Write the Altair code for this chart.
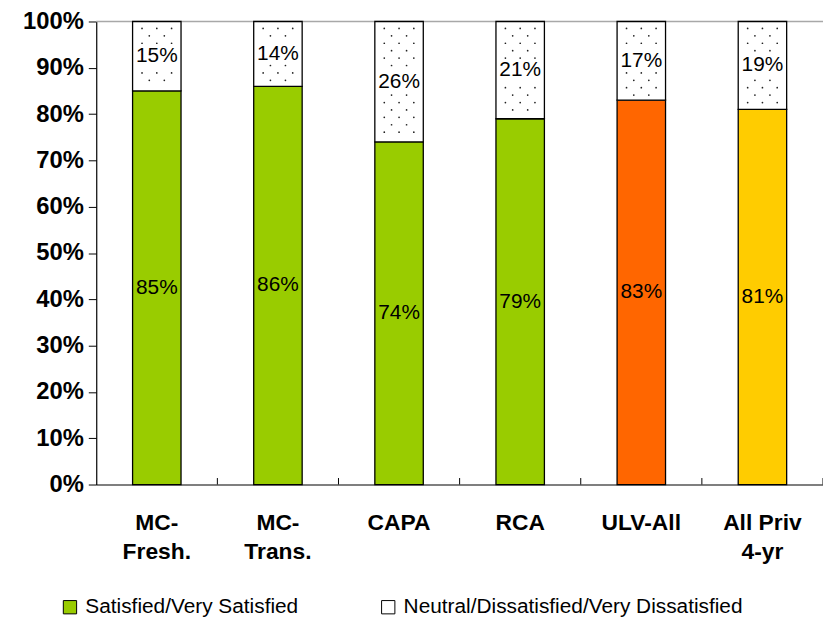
import altair as alt
import pandas as pd

# ---- data ----
categories = ["MC-\nFresh.", "MC-\nTrans.", "CAPA", "RCA", "ULV-All", "All Priv\n4-yr"]
satisfied = [85, 86, 74, 79, 83, 81]
neutral = [15, 14, 26, 21, 17, 19]
series_names = ["Satisfied/Very Satisfied", "Neutral/Dissatisfied/Very Dissatisfied"]
bar_keys = ["Satisfied/Very Satisfied"] * 4 + ["ULV-All", "All Priv 4-yr"]
y_ticks = [0, 10, 20, 30, 40, 50, 60, 70, 80, 90, 100]

color_domain = series_names + ["ULV-All", "All Priv 4-yr"]
color_range = ["#99CC00", "#FFFFFF", "#FF6600", "#FFCC00"]

FONT = "Liberation Sans"

# ---- tables built from the arrays ----
rows = []
for c, s, n, k in zip(categories, satisfied, neutral, bar_keys):
    rows.append({"cat": c, "key": k, "y0": 0, "y1": s, "mid": s / 2, "label": f"{s}%"})
    rows.append({"cat": c, "key": series_names[1], "y0": s, "y1": s + n,
                 "mid": s + n / 2, "label": f"{n}%"})
bars = pd.DataFrame(rows)

# dotted texture for the neutral segments (position in category units)
dots = []
for i, (c, s, n) in enumerate(zip(categories, satisfied, neutral)):
    mid = s + n / 2
    k = 0
    yy = 98.5
    while yy > s + 0.8:
        if abs(yy - mid) > 2.3:
            offs = [-0.61, 0.0, 0.61] if k % 2 == 0 else [-0.31, 0.31]
            for o in offs:
                dots.append({"px": i + 0.5 + o * 0.2, "yy": yy})
        k += 1
        yy = 98.5 - 1.6 * k
dots = pd.DataFrame(dots)

# inward category-boundary ticks of the x axis
bounds = pd.DataFrame({"px": list(range(1, len(categories) + 1)), "t0": 0, "t1": 1.4})

x_enc = alt.X(
    "cat:N", sort=categories,
    scale=alt.Scale(paddingInner=0.6, paddingOuter=0.3),
    axis=alt.Axis(
        title=None, labelAngle=0, labelFont=FONT, labelFontSize=23,
        labelFontWeight="bold", labelColor="black", labelPadding=27,
        labelLineHeight=30, labelExpr="split(datum.label, '\\n')",
        ticks=False, domainColor="black", domainWidth=1.2,
    ),
)
y_scale = alt.Scale(domain=[0, 100], nice=False)
q_scale = alt.Scale(domain=[0, len(categories)], nice=False)

top_rule = alt.Chart(pd.DataFrame({"v": [100]})).mark_rule(
    color="#a8a8a8", strokeWidth=1.5
).encode(y=alt.Y("v:Q", scale=y_scale))

bar_layer = alt.Chart(bars).mark_bar(stroke="black", strokeWidth=1.3).encode(
    x=x_enc,
    y=alt.Y(
        "y0:Q", scale=y_scale,
        axis=alt.Axis(
            title=None, values=y_ticks, labelExpr="datum.value + '%'",
            labelFont=FONT, labelFontSize=24, labelFontWeight="bold",
            labelColor="black", labelPadding=5, tickSize=8, tickColor="black",
            domainColor="black", domainWidth=1.2, grid=False,
        ),
    ),
    y2="y1:Q",
    fill=alt.Fill(
        "key:N",
        scale=alt.Scale(domain=color_domain, range=color_range),
        legend=alt.Legend(
            values=series_names, title=None, orient="none", direction="horizontal",
            legendX=-37, legendY=580, symbolType="square", symbolSize=180,
            symbolStrokeColor="black", symbolStrokeWidth=1, symbolOpacity=1,
            labelFont=FONT, labelFontSize=21, labelColor="black", labelLimit=600,
            labelOffset=5, columnPadding=80,
        ),
    ),
)

dot_layer = alt.Chart(dots).mark_point(
    filled=True, size=3, color="#222222", opacity=1
).encode(
    x=alt.X("px:Q", scale=q_scale, axis=None),
    y=alt.Y("yy:Q", scale=y_scale),
)

tick_layer = alt.Chart(bounds).mark_rule(color="black", strokeWidth=1).encode(
    x=alt.X("px:Q", scale=q_scale, axis=None),
    y=alt.Y("t0:Q", scale=y_scale),
    y2="t1:Q",
)

text_layer = alt.Chart(bars).mark_text(
    font=FONT, fontSize=21, color="black", baseline="middle"
).encode(
    x=alt.X("cat:N", sort=categories),
    y=alt.Y("mid:Q", scale=y_scale),
    text="label:N",
)

base = alt.layer(top_rule, bar_layer, text_layer)
overlay = alt.layer(dot_layer, tick_layer)
chart = alt.layer(base, overlay).resolve_scale(x="independent").properties(
    width=733, height=467,
    autosize=alt.AutoSizeParams(type="none"),
    padding={"left": 89, "top": 11, "right": 0, "bottom": 132},
).configure_view(stroke=None)

chart.save("out.html", embed_options={"renderer": "svg", "actions": False})
